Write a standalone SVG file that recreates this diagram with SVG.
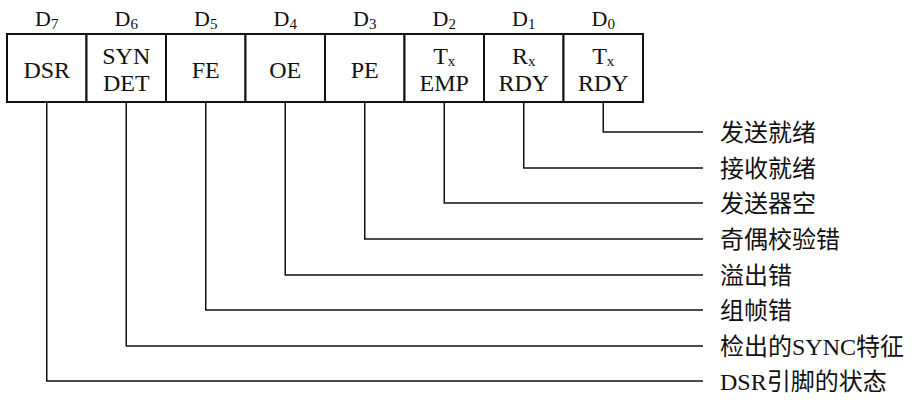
<svg xmlns="http://www.w3.org/2000/svg" width="916" height="400" viewBox="0 0 916 400">
<style>
.cell{fill:#fff;stroke:#111;stroke-width:2}
.t{font-family:"Liberation Serif","Noto Sans CJK SC",serif;font-size:24px;fill:#111;text-anchor:middle}
.bit{font-family:"Liberation Serif",serif;font-size:22px;fill:#111;text-anchor:middle}
.sub{font-size:15px}
.lbl{font-family:"Liberation Serif","Noto Sans CJK SC",serif;font-size:24px;fill:#111}
.c{fill:none;stroke:#111;stroke-width:1.5}
</style>
<rect x="0" y="0" width="916" height="400" fill="#fff"/>
<g id="bits">
<text class="bit" x="46.75" y="26">D<tspan class="sub" dy="3">7</tspan></text>
<text class="bit" x="126.25" y="26">D<tspan class="sub" dy="3">6</tspan></text>
<text class="bit" x="205.75" y="26">D<tspan class="sub" dy="3">5</tspan></text>
<text class="bit" x="285.25" y="26">D<tspan class="sub" dy="3">4</tspan></text>
<text class="bit" x="364.75" y="26">D<tspan class="sub" dy="3">3</tspan></text>
<text class="bit" x="444.25" y="26">D<tspan class="sub" dy="3">2</tspan></text>
<text class="bit" x="523.75" y="26">D<tspan class="sub" dy="3">1</tspan></text>
<text class="bit" x="603.25" y="26">D<tspan class="sub" dy="3">0</tspan></text>
</g>
<g id="cell-d7"><rect class="cell" x="7" y="34" width="79.5" height="68"/><text class="t" x="46.75" y="78">DSR</text></g>
<g id="cell-d6"><rect class="cell" x="86.5" y="34" width="79.5" height="68"/><text class="t" x="126.25" y="64">SYN</text><text class="t" x="126.25" y="91">DET</text></g>
<g id="cell-d5"><rect class="cell" x="166" y="34" width="79.5" height="68"/><text class="t" x="205.75" y="78">FE</text></g>
<g id="cell-d4"><rect class="cell" x="245.5" y="34" width="79.5" height="68"/><text class="t" x="285.25" y="78">OE</text></g>
<g id="cell-d3"><rect class="cell" x="325" y="34" width="79.5" height="68"/><text class="t" x="364.75" y="78">PE</text></g>
<g id="cell-d2"><rect class="cell" x="404.5" y="34" width="79.5" height="68"/><text class="t" x="444.25" y="64">T<tspan class="sub" dy="2">x</tspan></text><text class="t" x="444.25" y="91">EMP</text></g>
<g id="cell-d1"><rect class="cell" x="484" y="34" width="79.5" height="68"/><text class="t" x="523.75" y="64">R<tspan class="sub" dy="2">x</tspan></text><text class="t" x="523.75" y="91">RDY</text></g>
<g id="cell-d0"><rect class="cell" x="563.5" y="34" width="79.5" height="68"/><text class="t" x="603.25" y="64">T<tspan class="sub" dy="2">x</tspan></text><text class="t" x="603.25" y="91">RDY</text></g>
<g id="connectors">
<polyline class="c" points="603.25,103 603.25,132 703,132"/>
<polyline class="c" points="523.75,103 523.75,168 703,168"/>
<polyline class="c" points="444.25,103 444.25,203 703,203"/>
<polyline class="c" points="364.75,103 364.75,239 703,239"/>
<polyline class="c" points="285.25,103 285.25,275 703,275"/>
<polyline class="c" points="205.75,103 205.75,310 703,310"/>
<polyline class="c" points="126.25,103 126.25,346 703,346"/>
<polyline class="c" points="46.75,103 46.75,381 703,381"/>
</g>
<g id="label-d0"><text class="lbl" x="720" y="141">发送就绪</text></g>
<g id="label-d1"><text class="lbl" x="720" y="177">接收就绪</text></g>
<g id="label-d2"><text class="lbl" x="720" y="212">发送器空</text></g>
<g id="label-d3"><text class="lbl" x="720" y="248">奇偶校验错</text></g>
<g id="label-d4"><text class="lbl" x="720" y="284">溢出错</text></g>
<g id="label-d5"><text class="lbl" x="720" y="319">组帧错</text></g>
<g id="label-d6"><text class="lbl" x="720" y="355">检出的SYNC特征</text></g>
<g id="label-d7"><text class="lbl" x="720" y="390">DSR引脚的状态</text></g>
</svg>
